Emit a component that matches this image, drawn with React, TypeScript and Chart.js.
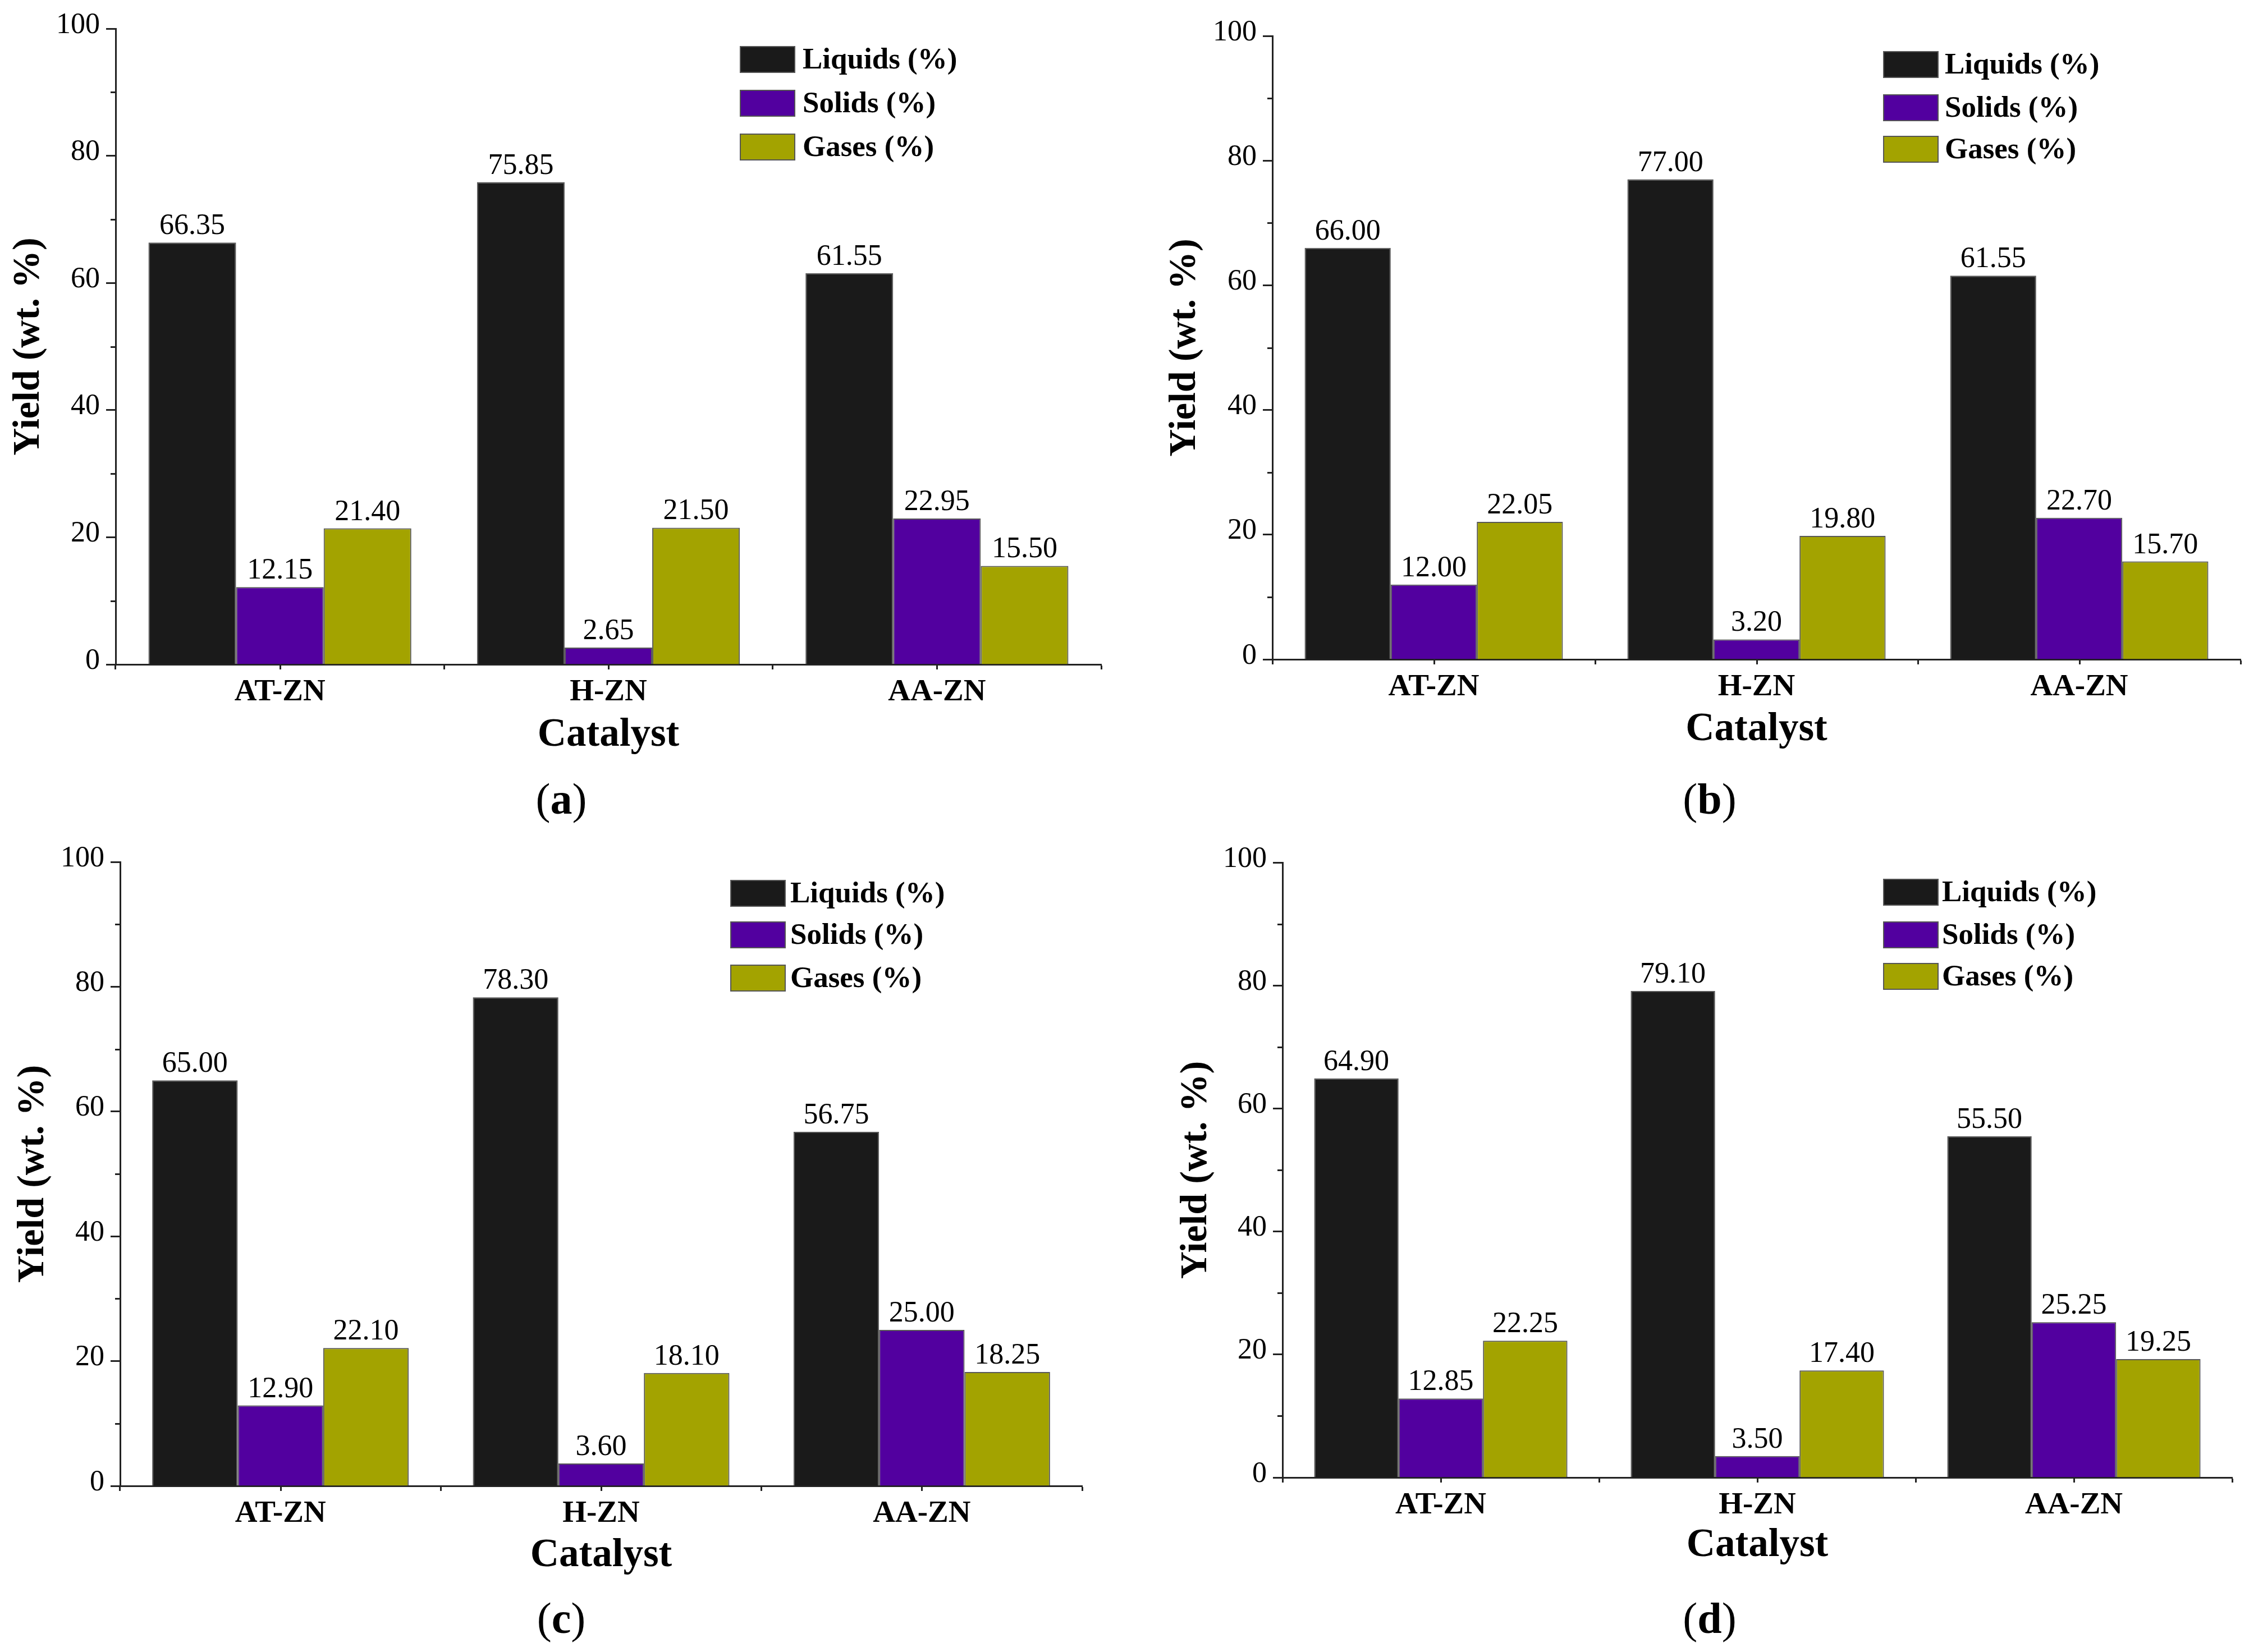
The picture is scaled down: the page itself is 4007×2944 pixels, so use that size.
import React, { useEffect, useRef } from 'react';
import { Chart, registerables } from 'chart.js';

Chart.register(...registerables);

// ---------- data ----------
const categories = ['AT-ZN', 'H-ZN', 'AA-ZN'];
const seriesNames = ['Liquids (%)', 'Solids (%)', 'Gases (%)'];
const seriesColors = ['#1a1a1a', '#52009f', '#a3a300'];

const liquidsA = [66.35, 75.85, 61.55];
const solidsA = [12.15, 2.65, 22.95];
const gasesA = [21.4, 21.5, 15.5];

const liquidsB = [66.0, 77.0, 61.55];
const solidsB = [12.0, 3.2, 22.7];
const gasesB = [22.05, 19.8, 15.7];

const liquidsC = [65.0, 78.3, 56.75];
const solidsC = [12.9, 3.6, 25.0];
const gasesC = [22.1, 18.1, 18.25];

const liquidsD = [64.9, 79.1, 55.5];
const solidsD = [12.85, 3.5, 25.25];
const gasesD = [22.25, 17.4, 19.25];

const yMin = 0;
const yMax = 100;
const yStep = 20;
const yMinorTicks = [10, 30, 50, 70, 90];
const xTitle = 'Catalyst';
const yTitle = 'Yield (wt. %)';

// ---------- layout (absolute page px) ----------
const FONT = "'Liberation Serif', 'Times New Roman', serif";
const AXIS = '#222222';

const PANELS = [
  {
    letter: 'a', data: [liquidsA, solidsA, gasesA],
    cx: 0, cy: 0, cw: 2003, ch: 1472,
    plot: { l: 206, r: 1962, t: 51, b: 1184 },
    yTitleX: 51, xTitleOff: 127,
    legend: { x: 1318, rows: [106, 184, 262], textX: 1430 },
    caption: { x: 1000, y: 1424 },
  },
  {
    letter: 'b', data: [liquidsB, solidsB, gasesB],
    cx: 2003, cy: 0, cw: 2004, ch: 1472,
    plot: { l: 2267, r: 3992, t: 64, b: 1175 },
    yTitleX: 2111, xTitleOff: 126,
    legend: { x: 3355, rows: [115, 192, 266], textX: 3465 },
    caption: { x: 3046, y: 1424 },
  },
  {
    letter: 'c', data: [liquidsC, solidsC, gasesC],
    cx: 0, cy: 1472, cw: 2003, ch: 1472,
    plot: { l: 214, r: 1928, t: 1536, b: 2648 },
    yTitleX: 59, xTitleOff: 125,
    legend: { x: 1301, rows: [1592, 1666, 1743], textX: 1408 },
    caption: { x: 1000, y: 2884 },
  },
  {
    letter: 'd', data: [liquidsD, solidsD, gasesD],
    cx: 2003, cy: 1472, cw: 2004, ch: 1472,
    plot: { l: 2285, r: 3977, t: 1537, b: 2633 },
    yTitleX: 2131, xTitleOff: 122,
    legend: { x: 3355, rows: [1590, 1666, 1740], textX: 3460 },
    caption: { x: 3046, y: 2884 },
  },
];

const Y_TITLE_SIZE = 68;
const X_TITLE_SIZE = 71;
const TICK_SIZE = 52;
const CAT_SIZE = 55;
const LABEL_SIZE = 52;
const LEGEND_SIZE = 53;

const overlayPlugin = {
  id: 'overlay',
  afterDatasetsDraw(chart: any, _args: any, opts: any) {
    const ctx = chart.ctx as CanvasRenderingContext2D;
    const area = chart.chartArea;
    const xs = chart.scales.x;
    const ys = chart.scales.y;
    ctx.save();
    // minor ticks (y) and centre ticks (x)
    ctx.strokeStyle = AXIS;
    ctx.lineWidth = 3;
    yMinorTicks.forEach((v) => {
      const py = Math.round(ys.getPixelForValue(v)) + 0.5;
      ctx.beginPath();
      ctx.moveTo(area.left - 9, py);
      ctx.lineTo(area.left, py);
      ctx.stroke();
    });
    categories.forEach((_c, i) => {
      const px = Math.round(xs.getPixelForValue(i)) + 0.5;
      ctx.beginPath();
      ctx.moveTo(px, area.bottom);
      ctx.lineTo(px, area.bottom + 9);
      ctx.stroke();
    });
    // value labels
    ctx.fillStyle = '#000';
    ctx.font = `${LABEL_SIZE}px ${FONT}`;
    ctx.textAlign = 'center';
    ctx.textBaseline = 'alphabetic';
    chart.data.datasets.forEach((ds: any, di: number) => {
      const meta = chart.getDatasetMeta(di);
      meta.data.forEach((el: any, i: number) => {
        ctx.fillText(Number(ds.data[i]).toFixed(2), el.x, el.y - 15);
      });
    });
    // legend
    const lg = opts.legend;
    ctx.font = `bold ${LEGEND_SIZE}px ${FONT}`;
    ctx.textAlign = 'left';
    ctx.textBaseline = 'middle';
    chart.data.datasets.forEach((ds: any, di: number) => {
      const cyRow = lg.rows[di];
      ctx.fillStyle = ds.backgroundColor;
      ctx.fillRect(lg.x, cyRow - 24, 99, 48);
      ctx.strokeStyle = '#555';
      ctx.lineWidth = 2;
      ctx.strokeRect(lg.x + 1, cyRow - 23, 97, 46);
      ctx.fillStyle = '#000';
      ctx.fillText(ds.label, lg.textX, cyRow + 2);
    });
    ctx.restore();
  },
};

function Panel({ p }: { p: (typeof PANELS)[number] }) {
  const ref = useRef<HTMLCanvasElement | null>(null);
  useEffect(() => {
    if (!ref.current) return;
    const yW = p.plot.l - p.cx;
    const xH = p.xTitleOff + (X_TITLE_SIZE * 1.2) / 2;
    const padTop = p.plot.t - p.cy;
    const padRight = p.cw - (p.plot.r - p.cx);
    const padBottom = p.ch - (p.plot.b - p.cy) - xH;
    const yTitlePad = p.yTitleX - p.cx - (Y_TITLE_SIZE * 1.2) / 2;
    const legendRel = {
      x: p.legend.x - p.cx,
      textX: p.legend.textX - p.cx,
      rows: p.legend.rows.map((r) => r - p.cy),
    };
    const chart = new Chart(ref.current, {
      type: 'bar',
      data: {
        labels: categories,
        datasets: seriesNames.map((name, i) => ({
          label: name,
          data: p.data[i],
          backgroundColor: seriesColors[i],
          borderColor: 'rgba(70,70,70,0.9)',
          borderWidth: 2,
          categoryPercentage: 0.8,
          barPercentage: 1.0,
        })),
      },
      options: {
        responsive: false,
        animation: false,
        devicePixelRatio: 1,
        layout: { padding: { left: 0, top: padTop, right: padRight, bottom: padBottom } },
        plugins: {
          legend: { display: false },
          tooltip: { enabled: false },
          overlay: { legend: legendRel },
        } as any,
        scales: {
          x: {
            type: 'category',
            offset: true,
            grid: {
              display: true,
              offset: true,
              drawOnChartArea: false,
              drawTicks: true,
              tickLength: 9,
              tickWidth: 3,
              color: AXIS,
            },
            border: { display: true, color: AXIS, width: 3 },
            ticks: {
              color: '#000',
              font: { family: FONT, size: CAT_SIZE, weight: 'bold', lineHeight: 1.2 },
              padding: 8,
              maxRotation: 0,
              autoSkip: false,
            },
            title: {
              display: true,
              text: xTitle,
              color: '#000',
              font: { family: FONT, size: X_TITLE_SIZE, weight: 'bold', lineHeight: 1.2 },
              padding: { top: 0, bottom: 0 },
            },
            afterFit: (s: any) => { s.height = xH; },
          },
          y: {
            min: yMin,
            max: yMax,
            grid: {
              display: true,
              drawOnChartArea: false,
              drawTicks: true,
              tickLength: 17,
              tickWidth: 3,
              color: AXIS,
            },
            border: { display: true, color: AXIS, width: 3 },
            ticks: {
              stepSize: yStep,
              color: '#000',
              font: { family: FONT, size: TICK_SIZE, lineHeight: 1.2 },
              padding: 11,
              labelOffset: -6,
            },
            title: {
              display: true,
              text: yTitle,
              color: '#000',
              font: { family: FONT, size: Y_TITLE_SIZE, weight: 'bold', lineHeight: 1.2 },
              padding: { top: yTitlePad, bottom: 0 },
            },
            afterFit: (s: any) => { s.width = yW; },
          },
        },
      },
      plugins: [overlayPlugin as any],
    } as any);
    return () => chart.destroy();
  }, [p]);
  return (
    <canvas
      ref={ref}
      width={p.cw}
      height={p.ch}
      style={{ position: 'absolute', left: p.cx, top: p.cy, width: p.cw, height: p.ch }}
    />
  );
}

export default function App() {
  return (
    <div style={{ position: 'absolute', left: 0, top: 0, width: 4007, height: 2944, background: '#fff', overflow: 'hidden' }}>
      {PANELS.map((p) => (
        <Panel key={p.letter} p={p} />
      ))}
      {PANELS.map((p) => (
        <div
          key={'cap' + p.letter}
          style={{
            position: 'absolute',
            left: p.caption.x,
            top: p.caption.y,
            transform: 'translate(-50%, -50%)',
            fontFamily: FONT,
            fontSize: 78,
            lineHeight: 1,
            color: '#000',
            whiteSpace: 'nowrap',
          }}
        >
          (<b>{p.letter}</b>)
        </div>
      ))}
    </div>
  );
}
